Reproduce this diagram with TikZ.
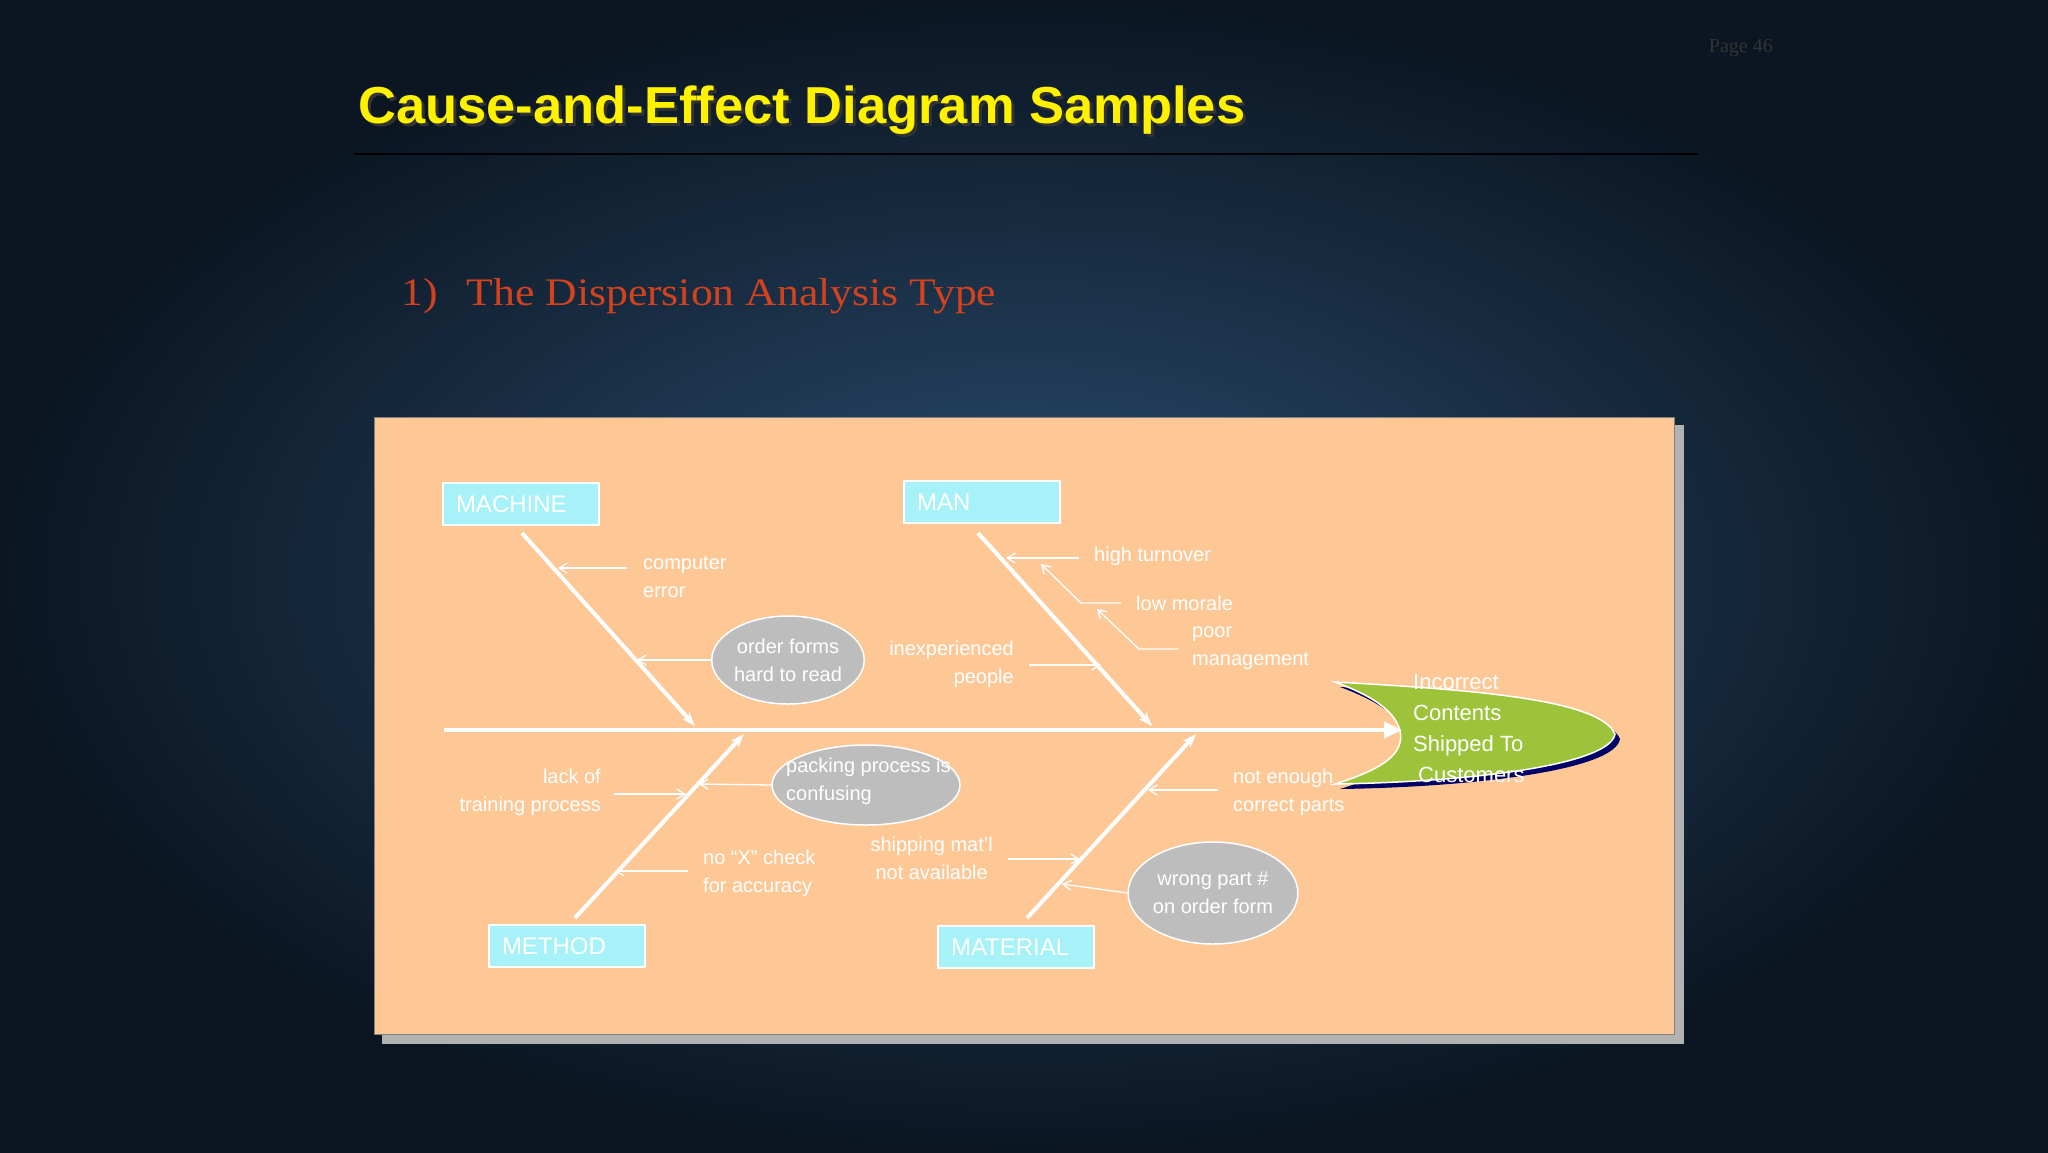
\documentclass[tikz,border=0pt]{standalone}
\usepackage{fontspec}
\setmainfont{Liberation Sans}
\newfontfamily\serifx{Liberation Serif}
\usetikzlibrary{arrows.meta,shadows,shapes.geometric}
\definecolor{panel}{HTML}{FDC896}
\definecolor{boxc}{HTML}{A6F2F8}
\definecolor{ell}{HTML}{BDBDBD}
\definecolor{fishg}{HTML}{9DC33B}
\definecolor{bgin}{HTML}{2B4D70}
\definecolor{bgout}{HTML}{0B1622}
\definecolor{subred}{HTML}{D2421C}
\begin{document}
\begin{tikzpicture}[x=1pt,y=-1pt,
  lab/.style={text=white,font=\fontsize{20}{28}\selectfont,inner sep=0pt},
  cat/.style={fill=boxc,draw=white,line width=1.5pt,minimum width=156pt,minimum height=42pt,text=white,font=\fontsize{24}{28}\selectfont,text width=130pt,align=left},
  elli/.style={ellipse,fill=ell,draw=white,line width=1.5pt,text=white,font=\fontsize{20}{28}\selectfont,align=center,inner sep=0pt},
  bone/.style={white,line width=4pt,-{Stealth[length=14pt,width=10pt]}},
  sub/.style={white,line width=1.3pt,-{Straight Barb[length=8pt,width=10pt]}}]
\useasboundingbox (0,0) rectangle (2048,1152);
\shade[inner color=bgin,outer color=bgout] (0,0) rectangle (2048,1152);
% title
\node[anchor=west,text=black!80,font=\bfseries\fontsize{52}{60}\selectfont,inner sep=0pt,xscale=1.01] at (361,113) {Cause-and-Effect Diagram Samples};
\node[anchor=west,text=yellow,font=\bfseries\fontsize{52}{60}\selectfont,inner sep=0pt,xscale=1.01] (title) at (358,110) {Cause-and-Effect Diagram Samples};
\draw[black,line width=2pt] (354,154) -- (1698,154);
\node[anchor=east,text=black!80,font=\serifx\fontsize{20}{24}\selectfont,inner sep=0pt] (page) at (1773,48) {Page 46};
\node[anchor=west,text=subred,font=\serifx\fontsize{39}{44}\selectfont,inner sep=0pt,xscale=1.12] (sub) at (401,296) {1)\hspace{26pt}The Dispersion Analysis Type};
% panel
\fill[gray!60] (382,425) rectangle (1684,1044);
\fill[panel] (374,417) rectangle (1674,1034);
\draw[black!50,line width=1pt] (374,417) rectangle (1674,1034);
% fish head
\fill[blue!40!black,xshift=5pt,yshift=-5pt] (1335,682) .. controls (1480,690) and (1600,700) .. (1615,734) .. controls (1610,765) and (1470,782) .. (1335,784) .. controls (1380,770) and (1405,755) .. (1400,731) .. controls (1395,710) and (1370,695) .. (1335,682) -- cycle;
\draw[fill=fishg,draw=white,line width=1.5pt] (1335,682) .. controls (1480,690) and (1600,700) .. (1615,734) .. controls (1610,765) and (1470,782) .. (1335,784) .. controls (1380,770) and (1405,755) .. (1400,731) .. controls (1395,710) and (1370,695) .. (1335,682) -- cycle;
\node[anchor=north west,text=white,font=\fontsize{22}{31}\selectfont,align=left,inner sep=0pt] (effect) at (1413,674) {Incorrect\\Contents\\Shipped To\\\hspace{5pt}Customers};
\coordinate (head) at (1402,730);
\coordinate (tail) at (444,730);
\draw[bone,-{Triangle[length=18pt,width=16pt]}] (tail) -- (head);
% categories
\node[cat] (mach) at (521,504) {MACHINE};
\node[cat] (man) at (982,502) {MAN};
\node[cat] (meth) at (567,946) {METHOD};
\node[cat] (mat) at (1016,947) {MATERIAL};
\coordinate (m1) at (522,533); \coordinate (m2) at (695,726);
\coordinate (n1) at (978,533); \coordinate (n2) at (1152,726);
\coordinate (t1) at (575,918); \coordinate (t2) at (744,734);
\coordinate (r1) at (1027,918); \coordinate (r2) at (1196,734);
\draw[bone] (m1) -- (m2);
\draw[bone] (n1) -- (n2);
\draw[bone] (t1) -- (t2);
\draw[bone] (r1) -- (r2);
% machine
\node[lab,anchor=north west,align=left] (ce) at (643,556) {computer\\error};
\coordinate (ce0) at (627,568); \coordinate (ce1) at (558,568);
\draw[sub] (ce0) -- (ce1);
\node[elli,minimum width=152pt,minimum height=88pt] (of) at (788,660) {order forms\\hard to read};
\coordinate (of1) at (637,660);
\draw[sub] (of.west) -- (of1);
% man
\node[lab,anchor=west] (ht) at (1094,556) {high turnover};
\coordinate (ht0) at (1079,558); \coordinate (ht1) at (1006,558);
\draw[sub] (ht0) -- (ht1);
\node[lab,anchor=west] (lm) at (1136,603) {low morale};
\coordinate (lm0) at (1121,603); \coordinate (lm1) at (1081,603); \coordinate (lm2) at (1041,564);
\draw[sub] (lm0) -- (lm1) -- (lm2);
\node[lab,anchor=north west,align=left] (pm) at (1192,627) {poor\\management};
\coordinate (pm0) at (1178,649); \coordinate (pm1) at (1139,649); \coordinate (pm2) at (1097,609);
\draw[sub] (pm0) -- (pm1) -- (pm2);
\node[lab,anchor=north east,align=right] (ip) at (1014,641) {inexperienced\\people};
\coordinate (ip0) at (1029,665); \coordinate (ip1) at (1101,665);
\draw[sub] (ip0) -- (ip1);
% method
\node[lab,anchor=north east,align=right] (lt) at (601,769) {lack of\\training process};
\coordinate (lt0) at (614,794); \coordinate (lt1) at (686,794);
\draw[sub] (lt0) -- (lt1);
\node[elli,minimum width=188pt,minimum height=80pt] (pp) at (866,785) {};
\node[lab,anchor=north west,align=left] (pptext) at (786,758) {packing process is\\confusing};
\coordinate (pp1) at (699,784);
\draw[sub] (pp.west) -- (pp1);
\node[lab,anchor=north west,align=left] (nx) at (703,850) {no ``X'' check\\for accuracy};
\coordinate (nx0) at (688,871); \coordinate (nx1) at (615,871);
\draw[sub] (nx0) -- (nx1);
% material
\node[lab,anchor=north west,align=left] (ne) at (1233,769) {not enough\\correct parts};
\coordinate (ne0) at (1218,790); \coordinate (ne1) at (1148,790);
\draw[sub] (ne0) -- (ne1);
\node[lab,anchor=north east,align=center] (sm) at (993,837) {shipping mat'l\\not available};
\coordinate (sm0) at (1008,859); \coordinate (sm1) at (1080,859);
\draw[sub] (sm0) -- (sm1);
\node[elli,minimum width=160pt,minimum height=102pt] (wp) at (1213,893) {wrong part \#\\on order form};
\coordinate (wp1) at (1062,884);
\draw[sub] (wp.west) -- (wp1);
\end{tikzpicture}
\end{document}
